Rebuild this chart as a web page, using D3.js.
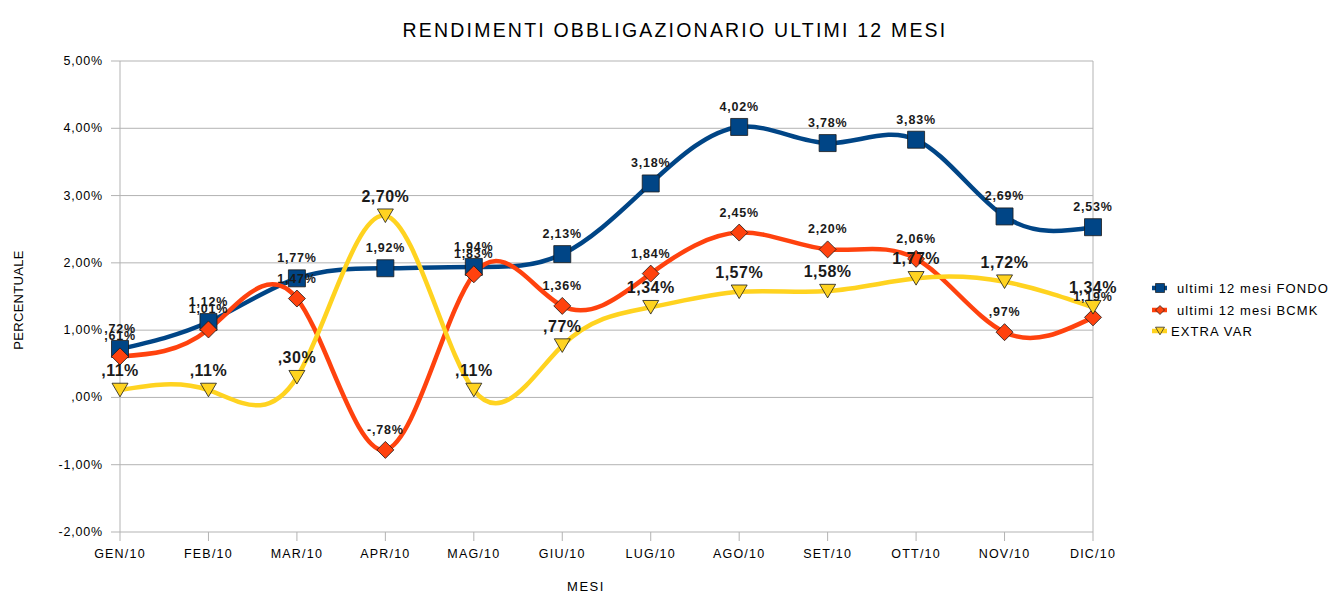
<!DOCTYPE html>
<html>
<head>
<meta charset="utf-8">
<script src="https://cdn.jsdelivr.net/npm/d3@7"></script>
<style>
  body { margin: 0; background: #fff; }
  text { font-family: "Liberation Sans", Arial, sans-serif; }
</style>
</head>
<body>
<div id="chart"></div>
<script>
// months on the x axis
var mesi = ["GEN/10", "FEB/10", "MAR/10", "APR/10", "MAG/10", "GIU/10",
            "LUG/10", "AGO/10", "SET/10", "OTT/10", "NOV/10", "DIC/10"];

// returns (%)
var fondo = [0.72, 1.12, 1.77, 1.92, 1.94, 2.13, 3.18, 4.02, 3.78, 3.83, 2.69, 2.53];
var bcmk = [0.61, 1.01, 1.47, -0.78, 1.83, 1.36, 1.84, 2.45, 2.20, 2.06, 0.97, 1.19];
var extraVar = [0.11, 0.11, 0.30, 2.70, 0.11, 0.77, 1.34, 1.57, 1.58, 1.77, 1.72, 1.34];

var yTicks = [-2, -1, 0, 1, 2, 3, 4, 5];

var width = 1335, height = 594;
var plotL = 120, plotR = 1093, plotT = 61, plotB = 532;

var series = [
  { name: "ultimi 12 mesi FONDO", values: fondo, color: "#004586", symbol: "square", big: false },
  { name: "ultimi 12 mesi BCMK", values: bcmk, color: "#ff420e", symbol: "diamond", big: false },
  { name: "EXTRA VAR", values: extraVar, color: "#ffd320", symbol: "triangle", big: true }
];

// italian style number with plain hyphen minus
var itLocale = d3.formatLocale({ decimal: ",", thousands: ".", grouping: [3], currency: ["€", ""], minus: "-" });
var f2 = itLocale.format(".2f");

// ",72%" / "1,12%" / "-,78%"
function fmtPct(v) {
  return f2(v).replace(/^0,/, ",").replace(/^-0,/, "-,") + "%";
}

var x = d3.scalePoint().domain(mesi).range([plotL, plotR]);
var y = d3.scaleLinear().domain([-2, 5]).range([plotB, plotT]);

var svg = d3.select("#chart").append("svg")
    .attr("width", width)
    .attr("height", height);

// title
svg.append("text")
    .attr("x", 675).attr("y", 37)
    .attr("text-anchor", "middle")
    .style("font-size", "19.5px")
    .style("letter-spacing", "2.2px")
    .text("RENDIMENTI OBBLIGAZIONARIO ULTIMI 12 MESI");

// grid lines
svg.append("g").selectAll("line")
  .data(yTicks).enter().append("line")
    .attr("x1", plotL - 9).attr("x2", plotR)
    .attr("y1", d => y(d)).attr("y2", d => y(d))
    .attr("stroke", "#b3b3b3").attr("stroke-width", 1);

// plot border sides
svg.append("line")
    .attr("x1", plotL).attr("x2", plotL).attr("y1", plotT).attr("y2", plotB)
    .attr("stroke", "#b3b3b3");
svg.append("line")
    .attr("x1", plotR).attr("x2", plotR).attr("y1", plotT).attr("y2", plotB)
    .attr("stroke", "#b3b3b3");

// x ticks
svg.append("g").selectAll("line")
  .data(mesi).enter().append("line")
    .attr("x1", d => x(d)).attr("x2", d => x(d))
    .attr("y1", plotB).attr("y2", plotB + 9)
    .attr("stroke", "#b3b3b3");

// y tick labels
svg.append("g").selectAll("text")
  .data(yTicks).enter().append("text")
    .attr("x", plotL - 17).attr("y", d => y(d) + 4)
    .attr("text-anchor", "end")
    .style("font-size", "12.5px")
    .style("letter-spacing", "0.8px")
    .text(d => fmtPct(d));

// x tick labels
svg.append("g").selectAll("text")
  .data(mesi).enter().append("text")
    .attr("x", d => x(d)).attr("y", plotB + 26)
    .attr("text-anchor", "middle")
    .style("font-size", "12.5px")
    .style("letter-spacing", "1.2px")
    .text(d => d);

// axis titles
svg.append("text")
    .attr("x", 586).attr("y", 591)
    .attr("text-anchor", "middle")
    .style("font-size", "13px")
    .style("letter-spacing", "1.5px")
    .text("MESI");

svg.append("text")
    .attr("transform", "translate(23,300) rotate(-90)")
    .attr("text-anchor", "middle")
    .style("font-size", "13px")
    .style("letter-spacing", "0.3px")
    .text("PERCENTUALE");

var line = d3.line()
    .x((d, i) => x(mesi[i]))
    .y(d => y(d))
    .curve(d3.curveNatural);

function symbolPath(kind, cx, cy, s) {
  if (kind === "square") {
    return `M${cx - s},${cy - s}H${cx + s}V${cy + s}H${cx - s}Z`;
  } else if (kind === "diamond") {
    return `M${cx},${cy - s}L${cx + s},${cy}L${cx},${cy + s}L${cx - s},${cy}Z`;
  }
  return `M${cx - s},${cy - s * 0.85}L${cx + s},${cy - s * 0.85}L${cx},${cy + s * 0.85}Z`;
}

var sizes = { square: 8.5, diamond: 8.5, triangle: 8 };

series.forEach(function (s) {
  svg.append("path")
      .datum(s.values)
      .attr("d", line)
      .attr("fill", "none")
      .attr("stroke", s.color)
      .attr("stroke-width", 4.5)
      .attr("stroke-linejoin", "round");
});

series.forEach(function (s) {
  svg.append("g").selectAll("path")
    .data(s.values).enter().append("path")
      .attr("d", (d, i) => symbolPath(s.symbol, x(mesi[i]), y(d), sizes[s.symbol]))
      .attr("fill", s.color)
      .attr("stroke", "#1a1a1a")
      .attr("stroke-width", 0.8);
});

// data labels
series.forEach(function (s) {
  svg.append("g").selectAll("text")
    .data(s.values).enter().append("text")
      .attr("x", (d, i) => x(mesi[i]))
      .attr("y", d => y(d) - (s.big ? 14 : 16))
      .attr("text-anchor", "middle")
      .style("font-size", s.big ? "16px" : "12.5px")
      .style("font-weight", "bold")
      .style("letter-spacing", s.big ? "0.5px" : "0.8px")
      .attr("fill", "#1a1a1a")
      .text(d => fmtPct(d));
});

// legend
var legend = svg.append("g").attr("transform", "translate(1150,288)");
var rowY = [0, 22, 43];
series.forEach(function (s, i) {
  var g = legend.append("g").attr("transform", `translate(0,${rowY[i]})`);
  g.append("line")
      .attr("x1", 2).attr("x2", 17).attr("y1", 0).attr("y2", 0)
      .attr("stroke", s.color).attr("stroke-width", 4.5);
  g.append("path")
      .attr("d", symbolPath(s.symbol, 10, 0, 4.5))
      .attr("fill", s.color)
      .attr("stroke", "#1a1a1a")
      .attr("stroke-width", 0.7);
  g.append("text")
      .attr("x", i < 2 ? 27 : 21).attr("y", 5)
      .style("font-size", "13px")
      .style("letter-spacing", "1.1px")
      .text(s.name);
});
</script>
</body>
</html>
